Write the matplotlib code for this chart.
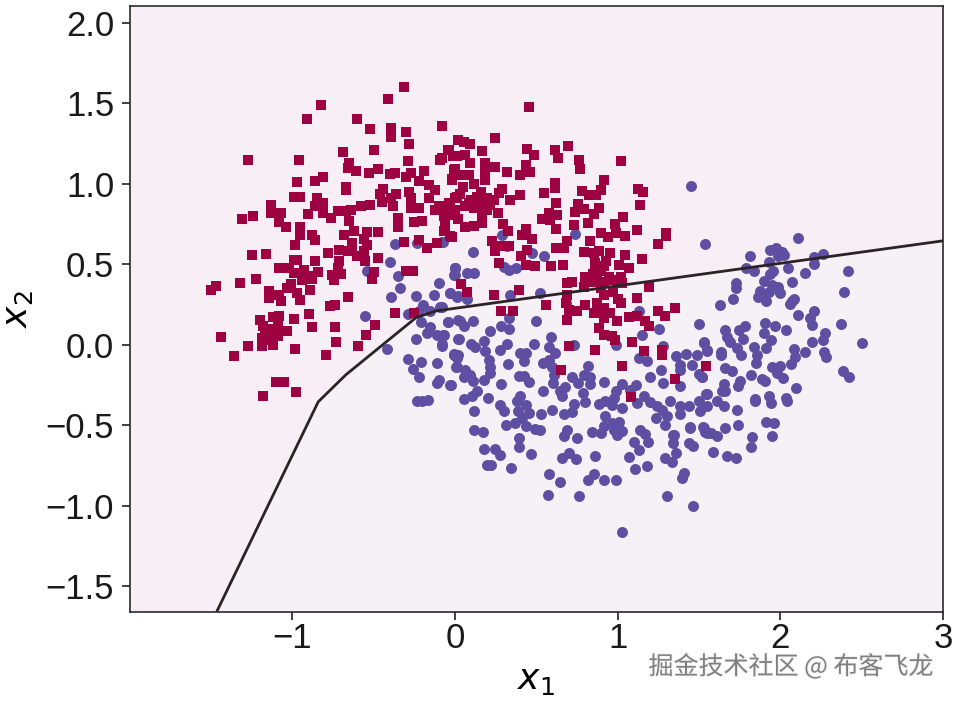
#!/usr/bin/env python3

import matplotlib
matplotlib.use("Agg")
import matplotlib.pyplot as plt
import matplotlib.patheffects as pe
import numpy as np

# values, (x1, x2)
squares = [
    (-0.31,1.60),(-0.41,1.53),(-0.82,1.49),(-0.91,1.40),(-0.60,1.40),(-0.52,1.34),(-0.39,1.35),(-0.39,1.29),
    (-0.30,1.32),(-0.28,1.25),(-0.08,1.36),(-0.69,1.20),(-0.50,1.21),(-1.27,1.15),(-0.96,1.15),(-0.29,1.14),
    (-0.65,1.13),(-0.66,1.10),(-0.61,1.08),(-0.53,1.07),(-0.47,1.09),(-0.40,1.06),(-0.37,1.07),(-0.30,1.04),
    (-0.27,1.07),(-0.22,1.02),(-0.19,1.08),(-0.97,1.01),(-0.86,1.02),(-0.81,1.04),(-0.67,0.98),(-0.67,0.96),
    (-0.99,0.92),(-0.95,0.92),(-0.85,0.91),(-0.44,0.97),(-0.46,0.94),(-0.45,0.89),(-0.39,0.91),(-0.38,0.86),
    (-0.36,0.94),(-0.28,0.95),(-0.27,0.91),(-0.27,0.85),(-0.22,0.85),(-0.16,0.99),(-0.12,0.96),(-0.16,0.91),
    (-1.13,0.87),(-1.13,0.82),(-1.07,0.82),(-0.86,0.86),(-0.81,0.88),(-0.90,0.81),(-0.81,0.82),(-0.76,0.79),
    (-0.72,0.83),(-0.67,0.83),(-0.64,0.84),(-0.58,0.86),(-0.52,0.87),(-1.31,0.78),(-1.24,0.80),(-1.08,0.76),
    (-1.04,0.73),(-0.95,0.73),(-0.95,0.68),(-0.88,0.68),(-0.86,0.65),(-0.65,0.77),(-0.62,0.71),(-0.68,0.68),
    (-0.35,0.79),(-0.35,0.73),(-0.25,0.76),(-0.20,0.77),(-0.54,0.70),(-0.47,0.70),(-0.56,0.66),(-0.63,0.63),
    (-0.54,0.62),(-0.31,0.64),(-0.22,0.65),(-0.12,0.84),(-0.06,0.85),(-0.07,0.80),(-0.10,0.86),(-0.03,0.88),
    (0.01,0.92),(-0.07,0.71),(-0.02,0.67),(-0.02,1.03),(0.00,1.09),(-0.04,1.21),(-0.09,1.15),(-0.01,1.17),
    (0.02,1.27),(-0.98,0.62),(-0.11,0.63),(-0.17,0.60),
    (-1.25,0.56),(-1.16,0.565),(-0.78,0.57),(-0.71,0.59),(-0.63,0.61),(-0.56,0.58),(-0.47,0.54),(-0.99,0.53),
    (-1.08,0.48),(-1.02,0.48),(-0.97,0.53),(-0.86,0.52),(-0.84,0.455),(-0.93,0.465),(-0.99,0.445),(-0.94,0.40),
    (-0.88,0.41),(-0.71,0.52),(-0.72,0.48),(-0.755,0.435),(-0.745,0.40),(-0.50,0.455),(-0.51,0.41),(-0.30,0.46),
    (-0.26,0.46),(-1.32,0.385),(-1.22,0.41),(-1.47,0.366),(-1.50,0.34),(-1.01,0.38),(-1.03,0.356),(-0.89,0.34),
    (-1.14,0.337),(-1.145,0.29),(-1.08,0.31),(-1.07,0.27),(-0.97,0.32),(-0.95,0.28),(-0.655,0.30),(-0.765,0.24),
    (-0.735,0.248),(-0.37,0.195),(-0.25,0.20),(-0.895,0.19),(-0.99,0.16),(-0.88,0.11),(-0.74,0.11),(-1.20,0.155),
    (-1.18,0.118),(-1.12,0.17),(-1.08,0.176),(-1.09,0.114),(-1.03,0.085),(-0.49,0.126),(-0.544,0.06),(-1.44,0.05),
    (-0.73,0.016),(-0.595,-0.006),(-1.27,-0.01),(-1.185,0.04),(-1.13,0.05),(-1.09,0.056),(-1.185,-0.01),(-1.12,0.0),
    (-1.155,0.03),(-0.98,-0.025),(-1.36,-0.07),(-0.79,-0.062),(-1.10,-0.23),(-1.075,-0.23),(-1.05,-0.23),
    (-0.976,-0.292),(-1.177,-0.32),
    (0.454,1.478),(0.249,1.286),(0.054,1.263),(0.095,1.247),(0.167,1.207),(0.446,1.218),(0.489,1.178),(0.618,1.211),
    (0.634,1.16),(0.694,1.238),(0.76,1.149),(0.768,1.091),(1.018,1.145),(-0.038,1.211),(-0.079,1.16),(0.013,1.17),
    (0.065,1.18),(0.095,1.128),(-0.003,1.089),(0.085,1.056),(0.034,1.056),(-0.017,1.025),(0.188,1.128),(0.249,1.104),
    (0.188,1.066),(0.188,1.025),(0.321,1.073),(0.438,1.118),(0.46,1.073),(0.403,1.056),(0.614,1.004),(0.614,0.973),
    (0.55,0.946),(0.622,0.882),(0.917,1.021),(0.895,0.963),(0.782,0.953),(0.823,0.932),(0.87,0.932),(1.128,0.971),
    (1.157,0.95),(1.136,0.87),(0.884,0.849),(0.858,0.814),(0.796,0.843),(0.757,0.876),(0.737,0.828),(0.817,0.756),
    (0.735,0.745),(1.036,0.791),(0.987,0.748),(0.991,0.694),(1.048,0.679),(0.895,0.694),(0.942,0.669),(1.122,0.712),
    (1.30,0.694),(1.30,0.673),(1.249,0.629),(0.29,0.971),(0.399,0.928),(0.337,0.901),(0.27,0.942),(0.034,0.938),
    (0.003,0.911),(-0.038,0.88),(0.085,0.88),(0.136,0.917),(0.198,0.911),(0.116,0.849),(0.177,0.87),(0.218,0.87),
    (0.263,0.822),(0.167,0.818),(0.167,0.756),(0.065,0.731),(0.116,0.739),(-0.038,0.808),(-0.058,0.756),(-0.058,0.714),
    (-0.028,0.673),(0.296,0.75),(0.327,0.708),(0.536,0.781),(0.577,0.818),(0.628,0.808),(0.587,0.777),(0.622,0.719),
    (0.44,0.719),(0.413,0.681),(0.475,0.658),(0.686,0.648),(0.622,0.6),(0.669,0.6),(0.833,0.648),(0.792,0.576),
    (0.854,0.57),(0.884,0.58),(0.952,0.57),(1.044,0.561),(1.151,0.534),(0.864,0.507),(0.915,0.487),(1.011,0.497),
    (1.069,0.48),(0.225,0.642),(0.249,0.58),(0.28,0.611),(0.27,0.507),(0.331,0.617),(0.409,0.549),(0.444,0.59),
    (0.434,0.497),(0.495,0.487),(0.593,0.491),(0.667,0.497),
    (0.038,0.379),(0.075,0.331),(0.239,0.311),(0.393,0.342),(0.284,0.213),(0.358,0.213),(0.561,0.25),(0.69,0.383),
    (0.72,0.393),(0.69,0.31),(0.68,0.259),(0.70,0.217),(0.69,0.155),(0.751,0.207),(0.802,0.248),(0.792,0.362),
    (0.843,0.393),(0.874,0.414),(0.915,0.393),(0.966,0.404),(1.018,0.424),(1.028,0.383),(0.915,0.311),(1.005,0.282),
    (1.122,0.292),(1.196,0.362),(1.249,0.213),(1.29,0.176),(1.354,0.228),(1.069,0.172),(1.12,0.176),(1.171,0.145),
    (1.192,0.114),(0.874,0.259),(0.915,0.228),(0.956,0.197),(0.854,0.197),(0.915,0.166),(0.997,0.145),(0.884,0.104),
    (0.915,0.062),(0.966,0.052),(0.987,0.027),(1.089,0.017),(0.704,-0.01),(0.86,-0.031),(1.165,-0.041),(1.274,-0.031),
    (1.274,-0.062),(1.024,-0.133),(1.542,-0.133),(0.653,-0.157),(1.354,-0.213),(1.083,-0.327),
    # dense clumps
    (0.14,0.86),(0.2,0.84),(0.24,0.9),(0.1,0.9),(0.06,0.86),(0.16,0.95),(0.9,0.46),(0.95,0.42),(0.85,0.44),
    (0.9,0.35),(0.97,0.33),(0.8,0.42),(0.86,0.5),(0.93,0.52),(-0.6,0.55),(-0.66,0.58),(-0.55,0.52),(-0.9,0.43),
    (-1.15,0.1),(-1.12,0.08),(-1.17,0.07),(-0.7,0.44),(0.02,0.78),(0.0,0.84),(0.05,0.98),(0.12,1.0),(1.02,0.26),
]

circles = [
    (-0.366,0.627),(-0.23,0.635),(-0.075,0.64),(-0.40,0.513),(-0.54,0.46),(-0.35,0.43),(-0.335,0.354),(-0.39,0.296),
    (-0.237,0.304),(-0.126,0.31),(-0.10,0.387),(-0.001,0.476),(-0.007,0.435),(-0.03,0.325),(0.01,0.30),(-0.09,0.238),
    (-0.198,0.248),(-0.22,0.213),(-0.155,0.207),(-0.29,0.19),(-0.55,0.178),(-0.21,0.14),(-0.04,0.14),(-0.15,0.11),
    (-0.17,0.072),(-0.11,0.062),(-0.075,0.062),(-0.237,0.037),(0.02,0.155),(0.02,0.037),(-0.08,-0.006),(-0.42,-0.027),
    (-0.007,-0.062),(0.02,-0.062),(0.01,-0.135),(-0.288,-0.087),(-0.208,-0.108),(-0.11,-0.112),(-0.26,-0.153),
    (-0.22,-0.20),(-0.10,-0.218),(-0.11,-0.238),(-0.025,-0.25),(-0.23,-0.348),(-0.20,-0.348),(-0.167,-0.342),
    (1.45,0.988),(1.54,0.627),(0.29,0.685),(0.32,0.617),(0.112,0.576),(0.475,0.572),(0.55,0.551),(0.741,0.688),
    (-0.001,0.48),(0.30,0.483),(0.331,0.466),(0.378,0.476),(-0.079,0.638),
    (0.003,0.476),(0.003,0.435),(0.075,0.445),(0.116,0.445),(-0.028,0.321),(0.018,0.304),(0.075,0.284),(0.337,0.311),
    (0.526,0.321),(0.68,0.259),(-0.079,0.238),(0.331,0.166),(0.499,0.151),(1.134,0.207),(-0.044,0.141),(0.034,0.151),
    (0.054,0.114),(0.112,0.151),(0.286,0.118),(0.331,0.1),(0.214,0.083),(-0.069,0.062),(0.024,0.035),(0.593,0.048),
    (-0.079,0.004),(0.10,0.006),(0.126,-0.015),(0.177,0.021),(0.188,-0.041),(0.276,-0.031),(0.321,0.004),(0.485,0.002),
    (0.577,-0.014),(0.618,-0.048),(0.731,0.0),(0.991,-0.004),(1.257,0.099),(1.151,0.062),(1.503,0.132),(1.534,0.017),
    (1.55,-0.041),(1.28,-0.006),(0.403,-0.052),(0.434,-0.052),(0.423,-0.103),(-0.007,-0.056),(0.013,-0.083),(0.009,-0.135),
    (0.208,-0.093),(0.218,-0.135),(0.329,-0.12),(0.54,-0.114),(0.577,-0.093),(0.598,-0.135),(0.608,-0.186),(0.604,-0.238),
    (0.819,-0.13),(0.792,-0.186),(0.833,-0.197),(0.833,-0.242),(0.72,-0.197),(0.755,-0.238),(1.13,-0.079),(1.18,-0.103),
    (1.356,-0.072),(1.421,-0.058),(1.489,-0.062),(1.382,-0.124),(1.382,-0.155),(1.458,-0.124),(1.264,-0.155),(1.202,-0.197),
    (1.28,-0.238),(1.499,-0.18),(1.52,-0.197),(1.386,-0.255),(0.065,-0.155),(0.054,-0.197),(0.095,-0.186),(0.112,-0.222),
    (0.177,-0.217),(0.214,-0.176),(-0.028,-0.252),(0.286,-0.244),(0.393,-0.192),(0.427,-0.192),(0.454,-0.228),(0.542,-0.284),
    (0.679,-0.259),(0.649,-0.284),(0.659,-0.321),(0.788,-0.30),(0.798,-0.358),(0.919,-0.23),(1.028,-0.242),(0.993,-0.29),
    (0.977,-0.331),(0.966,-0.373),(1.114,-0.248),(1.079,-0.279),(0.884,-0.366),(0.925,-0.352),(1.161,-0.317),(1.202,-0.358),
    (1.12,-0.362),(1.028,-0.393),(0.136,-0.29),(0.106,-0.321),(0.058,-0.335),(0.202,-0.329),(0.12,-0.414),(0.276,-0.377),
    (0.30,-0.414),(0.403,-0.321),(0.382,-0.352),(0.44,-0.377),(0.454,-0.424),(0.386,-0.41),(0.413,-0.455),(0.597,-0.404),
    (0.532,-0.428),(0.731,-0.369),(0.72,-0.42),(0.673,-0.428),(1.243,-0.383),(1.274,-0.404),(1.233,-0.455),(1.304,-0.445),
    (1.294,-0.497),(1.325,-0.352),(1.386,-0.383),(1.438,-0.379),(1.386,-0.431),(1.499,-0.352),(1.546,-0.304),(1.509,-0.414),
    (1.55,-0.383),(0.925,-0.445),(1.007,-0.48),(0.966,-0.486),(0.915,-0.507),(0.895,-0.549),(0.843,-0.544),(0.977,-0.528),
    (1.028,-0.538),(0.997,-0.559),(0.315,-0.497),(0.372,-0.486),(0.436,-0.503),(0.495,-0.522),(0.52,-0.532),(0.12,-0.532),
    (0.173,-0.54),(0.686,-0.528),(0.669,-0.569),(0.751,-0.58),(0.393,-0.58),(1.14,-0.528),(1.171,-0.553),(1.345,-0.559),
    (1.448,-0.513),(1.53,-0.518),(1.55,-0.549),
    (0.393,-0.636),(0.181,-0.648),(0.249,-0.648),(0.276,-0.684),(0.47,-0.677),(0.659,-0.704),(0.70,-0.673),(0.745,-0.711),
    (0.864,-0.688),(1.069,-0.694),(1.13,-0.653),(1.10,-0.601),(1.186,-0.601),(1.294,-0.704),(1.335,-0.729),(1.36,-0.673),
    (1.339,-0.611),(1.339,-0.56),(1.438,-0.611),(1.462,-0.628),(1.587,-0.663),(1.673,-0.688),(1.725,-0.704),(1.817,-0.636),
    (1.827,-0.574),(1.95,-0.566),(1.915,-0.477),(1.96,-0.487),(1.741,-0.501),(1.659,-0.516),(1.444,-0.514),(1.524,-0.512),
    (1.54,-0.539),(1.571,-0.549),(1.612,-0.564),(1.735,-0.404),(0.195,-0.745),(0.22,-0.748),(0.345,-0.764),(0.581,-0.804),
    (0.649,-0.851),(0.815,-0.841),(0.856,-0.804),(0.919,-0.841),(0.991,-0.839),(1.106,-0.771),(1.18,-0.75),(1.407,-0.797),
    (1.397,-0.829),(0.575,-0.936),(0.763,-0.938),(1.304,-0.942),(1.464,-1.0),(1.03,-1.162),(1.847,-0.352),(1.944,-0.363),
    (2.04,-0.352),(1.653,-0.383),(1.612,-0.352),
    (2.107,0.666),(1.816,0.552),(1.976,0.60),(1.939,0.586),(2.011,0.579),(2.021,0.559),(1.984,0.552),(1.929,0.517),
    (2.206,0.548),(2.263,0.565),(2.206,0.503),(2.05,0.48),(1.792,0.48),(1.837,0.461),(1.956,0.459),(1.939,0.441),
    (2.15,0.445),(2.417,0.461),(1.898,0.399),(2.073,0.393),(1.726,0.387),(1.726,0.352),(1.95,0.372),(1.984,0.362),
    (1.997,0.32),(1.874,0.337),(1.929,0.331),(1.861,0.294),(1.898,0.304),(1.915,0.275),(2.392,0.327),(1.712,0.285),
    (1.632,0.248),(2.087,0.285),(2.073,0.273),(2.062,0.252),(2.206,0.213),(2.181,0.169),(2.195,0.122),(2.109,0.186),
    (2.374,0.132),(1.907,0.138),(1.97,0.118),(2.036,0.093),(1.786,0.118),(1.745,0.089),(1.663,0.093),(1.673,0.051),
    (1.771,0.035),(1.898,0.072),(1.943,0.031),(1.915,-0.017),(2.273,0.072),(2.261,0.031),(2.197,0.02),(2.505,0.014),
    (1.53,0.014),(1.55,-0.031),(1.693,0.02),(1.734,-0.021),(1.761,-0.063),(1.837,-0.015),(1.857,-0.063),(1.851,-0.11),
    (1.636,-0.046),(1.636,-0.063),(2.087,-0.023),(2.093,-0.073),(2.064,-0.118),(2.152,-0.044),(2.271,-0.046),(2.281,-0.077),
    (1.997,-0.131),(1.95,-0.139),(1.98,-0.176),(2.017,-0.207),(2.386,-0.16),(2.421,-0.203),(1.663,-0.145),(1.704,-0.16),
    (1.519,-0.197),(1.818,-0.185),(1.888,-0.212),(1.905,-0.224),(1.755,-0.224),(1.739,-0.253),(1.652,-0.243),(1.663,-0.29),
    (1.642,-0.29),(2.099,-0.27),(1.55,-0.305),(1.847,-0.338),(1.929,-0.321),(2.038,-0.332),
]

boundary_x = [-1.46, -0.84, -0.67, -0.24, -0.12, 3.0]
boundary_y = [-1.65, -0.354, -0.186, 0.168, 0.21, 0.646]

x_ticks = [-1, 0, 1, 2, 3]
x_labels = ["\u22121", "0", "1", "2", "3"]
y_ticks = [-1.5, -1.0, -0.5, 0.0, 0.5, 1.0, 1.5, 2.0]
y_labels = ["\u22121.5", "\u22121.0", "\u22120.5", "0.0", "0.5", "1.0", "1.5", "2.0"]

x_lim = (-2.0, 3.0)
y_lim = (-1.66, 2.105)

plt.rcParams['font.family'] = ['Liberation Sans', 'DejaVu Sans']

fig = plt.figure(figsize=(9.55, 7.02), dpi=100)
ax = fig.add_axes([129.5/955, 90/702, 813.5/955, 606/702])

# the two decision regions
ax.set_facecolor('#f8eef5')
ax.fill_between(boundary_x + [x_lim[1]], [y_lim[0]] * (len(boundary_x) + 1), boundary_y + [boundary_y[-1]],
                color='#f6f1f6', linewidth=0, zorder=0)

sq = np.array(squares)
ci = np.array(circles)

ax.plot(ci[:, 0], ci[:, 1], 'o', color='#5e4fa2', markersize=7.9, markeredgewidth=0, zorder=2)
ax.plot(sq[:, 0], sq[:, 1], 's', color='#9e0142', markersize=7.7, markeredgewidth=0, zorder=3)
ax.plot(boundary_x, boundary_y, color='#2b2326', linewidth=2.0, zorder=4)

ax.set_xlim(x_lim)
ax.set_ylim(y_lim)
ax.set_xticks(x_ticks)
ax.set_xticklabels(x_labels)
ax.set_yticks(y_ticks)
ax.set_yticklabels(y_labels)
ax.tick_params(axis='both', labelsize=25, length=6, width=1.2, color='#222222', labelcolor='#1a1a1a')
ax.tick_params(axis='x', pad=1)
ax.tick_params(axis='y', pad=5)

for spine in ax.spines.values():
    spine.set_linewidth(1.2)
    spine.set_color('#2a2a2a')

ax.set_xlabel("$x_1$", fontsize=26, labelpad=5)
ax.set_ylabel("$x_2$", fontsize=26, labelpad=8)

fig.text(791/955, 1 - 667/702, "掘金技术社区 @ 布客飞龙", ha='center', va='center', fontsize=18,
         family=['Noto Sans CJK SC', 'DejaVu Sans'], color='#7f7f7f',
         path_effects=[pe.withStroke(linewidth=1.5, foreground='#f4f4f4')])

fig.savefig("out.png", dpi=100)
plt.close()
